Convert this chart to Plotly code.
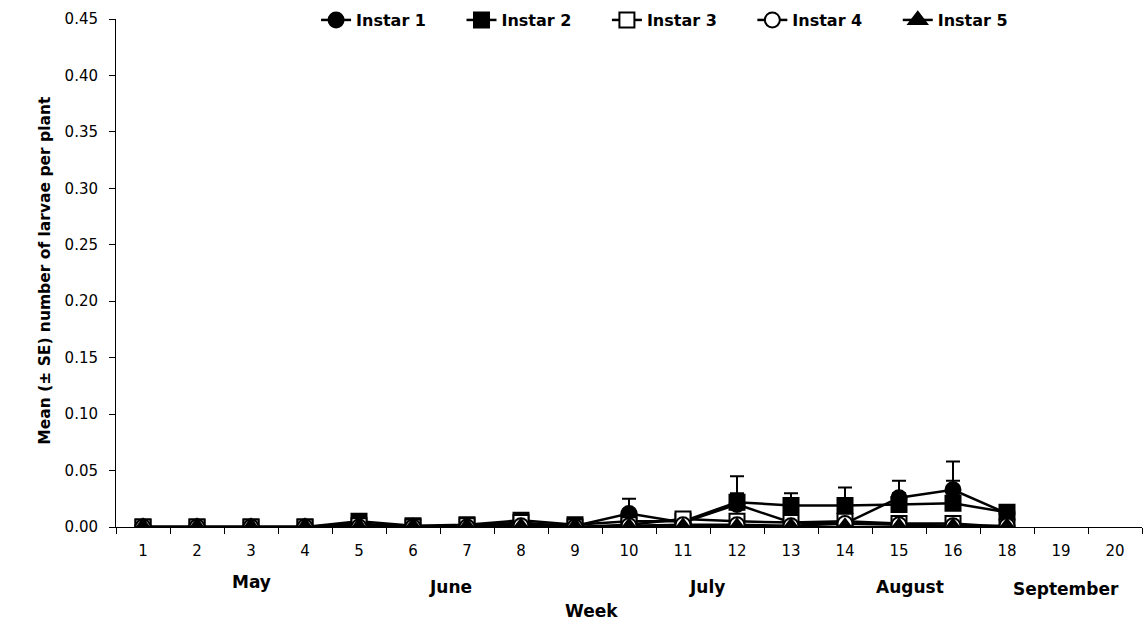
import plotly.graph_objects as go

weeks_all = ["1", "2", "3", "4", "5", "6", "7", "8", "9", "10", "11", "12", "13", "14", "15", "16", "18", "19", "20"]
weeks = ["1", "2", "3", "4", "5", "6", "7", "8", "9", "10", "11", "12", "13", "14", "15", "16", "18"]

instar1 = [0, 0, 0, 0, 0.003, 0, 0.001, 0.003, 0.001, 0.012, 0.004, 0.020, 0.004, 0.003, 0.026, 0.033, 0.012]
instar1_se = [0, 0, 0, 0, 0.001, 0, 0, 0.001, 0, 0.013, 0.002, 0.010, 0.002, 0.002, 0.015, 0.025, 0]
instar2 = [0, 0, 0, 0, 0.005, 0.001, 0.002, 0.006, 0.002, 0.005, 0.005, 0.022, 0.019, 0.019, 0.020, 0.021, 0.013]
instar2_se = [0, 0, 0, 0, 0.002, 0, 0.001, 0.002, 0, 0.002, 0.002, 0.023, 0.011, 0.016, 0.010, 0.020, 0]
instar3 = [0, 0, 0, 0, 0.001, 0, 0.001, 0.004, 0, 0.002, 0.007, 0.005, 0.004, 0.005, 0.003, 0.003, 0]
instar4 = [0, 0, 0, 0, 0, 0, 0, 0.001, 0, 0.001, 0.002, 0.002, 0.001, 0.003, 0.002, 0.001, 0.001]
instar5 = [0, 0, 0, 0, 0, 0, 0, 0, 0, 0, 0, 0, 0, 0, 0, 0, 0]

month_labels = ["May", "June", "July", "August", "September"]
month_pos = [2.0, 5.7, 10.45, 14.2, 17.1]
month_y = [-0.108, -0.118, -0.118, -0.118, -0.123]

series = [
    ("Instar 1", instar1, instar1_se, "circle", "black"),
    ("Instar 2", instar2, instar2_se, "square", "black"),
    ("Instar 3", instar3, None, "square", "white"),
    ("Instar 4", instar4, None, "circle", "white"),
    ("Instar 5", instar5, None, "triangle-up", "black"),
]

pad = "\u00a0" * 6

fig = go.Figure()
for name, vals, se, sym, fill in series:
    err = None
    if se is not None:
        err = dict(type="data", symmetric=False, array=se, arrayminus=[0] * len(se),
                   color="black", thickness=2, width=7)
    fig.add_trace(go.Scatter(
        x=weeks, y=vals, name="<b>" + name + "</b>" + pad, mode="lines+markers",
        line=dict(color="black", width=2.5),
        marker=dict(symbol=sym, size=15 if sym != "triangle-up" else 16, color=fill,
                    line=dict(color="black", width=2)),
        error_y=err,
    ))

font_main = "DejaVu Sans, Liberation Sans, Arial, sans-serif"

annotations = []
for lab, xp, yp in zip(month_labels, month_pos, month_y):
    annotations.append(dict(text="<b>" + lab + "</b>", x=xp, y=yp, xref="x", yref="paper",
                            showarrow=False, font=dict(size=17, color="black", family=font_main),
                            xanchor="center", yanchor="middle"))
annotations.append(dict(text="<b>Week</b>", x=8.3, y=-0.165, xref="x", yref="paper",
                        showarrow=False, font=dict(size=17, color="black", family=font_main),
                        xanchor="center", yanchor="middle"))
annotations.append(dict(text="<b>Mean (± SE) number of larvae per plant</b>", x=-0.069, y=0.505,
                        xref="paper", yref="paper", textangle=-90, showarrow=False,
                        font=dict(size=15.5, color="black", family=font_main),
                        xanchor="center", yanchor="middle"))

fig.update_layout(
    width=1146, height=627,
    margin=dict(l=116, r=4, t=18, b=100),
    paper_bgcolor="white", plot_bgcolor="white",
    font=dict(family=font_main, color="black", size=15),
    showlegend=True,
    legend=dict(orientation="h", x=0.195, y=0.996, xanchor="left", yanchor="middle",
                font=dict(size=16, family=font_main, color="black"),
                bgcolor="rgba(0,0,0,0)", itemwidth=30, tracegroupgap=0),
    xaxis=dict(type="category", categoryorder="array", categoryarray=weeks_all,
               range=[-0.5, 18.5], showgrid=False, zeroline=False,
               showline=True, linecolor="black", linewidth=1,
               ticks="outside", tickson="boundaries", ticklen=6, tickcolor="black",
               ticklabelstandoff=10, tickfont=dict(size=15)),
    yaxis=dict(range=[0, 0.45], dtick=0.05, tickformat=".2f", showgrid=False, zeroline=False,
               showline=True, linecolor="black", linewidth=1,
               ticks="outside", ticklen=6, tickcolor="black",
               ticklabelstandoff=8, tickfont=dict(size=15)),
    annotations=annotations,
)

fig.write_html("out.html")
